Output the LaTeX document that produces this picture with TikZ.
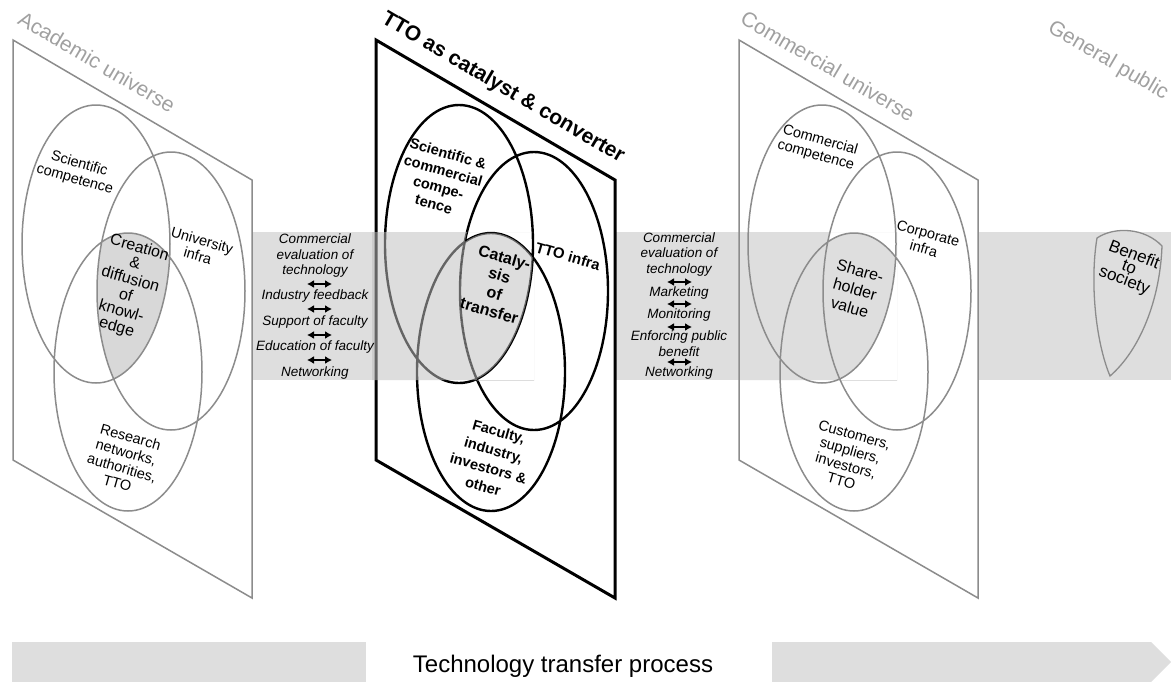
\documentclass[tikz,border=0pt]{standalone}
\usepackage{fontspec}
\setmainfont{Liberation Sans}
\usetikzlibrary{arrows.meta}

\definecolor{bandgray}{HTML}{DEDEDE}
\definecolor{linegray}{HTML}{8C8C8C}
\definecolor{titlegray}{HTML}{A0A0A0}
\definecolor{coregray}{HTML}{D8D8D8}

\begin{document}
\begin{tikzpicture}[x=1pt, y=-1pt,
    vennring/.style={x radius=74, y radius=139},
    unititle/.style={font=\fontsize{21}{24}\selectfont, rotate=-30.4, inner sep=0pt},
    ringtext/.style={font=\fontsize{14.5}{16}\selectfont, align=center, rotate=-16, inner sep=0pt},
    coretext/.style={ringtext, font=\fontsize{16}{16.5}\selectfont},
    activity/.style={font=\fontsize{13.5}{15}\selectfont\itshape, inner sep=0pt},
    twoway/.style={{Latex[length=7pt,width=8pt]}-{Latex[length=7pt,width=8pt]}, line width=2pt},
    greyline/.style={draw=linegray, line width=1.5pt},
    blackline/.style={draw=black, line width=2.4pt},
    veil/.style={fill=black!25, fill opacity=0.53}]
    \useasboundingbox (0,0) rectangle (1171,681);

    % Transfer band
    \fill[bandgray] (252,232) rectangle (1171,380);

    % Process bar
    \fill[bandgray] (12,642) rectangle (366,682);
    \fill[bandgray] (772,642) -- (1151,642) -- (1171,662) -- (1151,682) -- (772,682) -- cycle;
    \node[font=\fontsize{24}{26}\selectfont] (process) at (563,666) {Technology transfer process};

    % Academic universe
    \filldraw[greyline, fill=white] (13,40) -- (252,180) -- (252,598) -- (13,460) -- cycle;
    \coordinate (acadSci) at (96,244);
    \coordinate (acadInfra) at (171,291);
    \coordinate (acadNet) at (128,372);
    \begin{scope}
        \clip (acadSci) ellipse [vennring];
        \clip (acadInfra) ellipse [vennring];
        \fill[coregray] (acadNet) ellipse [vennring];
    \end{scope}
    \draw[greyline] (acadSci) ellipse [vennring] (acadInfra) ellipse [vennring] (acadNet) ellipse [vennring];

    % TTO panel
    \fill[white] (376,40) -- (615,180) -- (615,598) -- (376,460) -- cycle;
    \coordinate (ttoSci) at (459,244);
    \coordinate (ttoInfra) at (534,291);
    \coordinate (ttoNet) at (491,372);
    \draw[blackline] (ttoSci) ellipse [vennring] (ttoInfra) ellipse [vennring] (ttoNet) ellipse [vennring];
    \draw[line width=3pt] (376,40) -- (615,180) -- (615,598) -- (376,460) -- cycle;
    % band seen through the panel
    \begin{scope}
        \clip (372,232) rectangle (534,380);
        \fill[veil, even odd rule] (372,232) rectangle (534,380) (ttoInfra) ellipse [vennring];
    \end{scope}
    \begin{scope}
        \clip (ttoSci) ellipse [vennring];
        \clip (ttoInfra) ellipse [vennring];
        \fill[veil] (ttoNet) ellipse [vennring];
    \end{scope}

    % Commercial universe
    \fill[white] (739,40) -- (978,180) -- (978,598) -- (739,460) -- cycle;
    \coordinate (comComp) at (822,244);
    \coordinate (comInfra) at (897,291);
    \coordinate (comCust) at (854,372);
    \begin{scope}
        \clip (739,232) rectangle (897,380);
        \fill[bandgray, even odd rule] (739,232) rectangle (897,380) (comInfra) ellipse [vennring];
    \end{scope}
    \begin{scope}
        \clip (comComp) ellipse [vennring];
        \clip (comInfra) ellipse [vennring];
        \fill[bandgray] (comCust) ellipse [vennring];
    \end{scope}
    \draw[greyline] (comComp) ellipse [vennring] (comInfra) ellipse [vennring] (comCust) ellipse [vennring];
    \draw[greyline] (739,40) -- (978,180) -- (978,598) -- (739,460) -- cycle;

    % General public
    \filldraw[fill=bandgray, draw=linegray, line width=1.3pt] (1097,238) .. controls (1115,226) and (1145,228) .. (1162,246)
        .. controls (1160,300) and (1140,350) .. (1110,376) .. controls (1095,340) and (1090,280) .. (1097,238) -- cycle;

    % Titles
    \node[unititle, text=titlegray] (acadTitle) at (97,62) {Academic universe};
    \node[unititle, font=\fontsize{21}{24}\selectfont\bfseries] (ttoTitle) at (503,88) {TTO as catalyst \& converter};
    \node[unititle, text=titlegray] (comTitle) at (828,66) {Commercial universe};
    \node[unititle, text=titlegray] (publicTitle) at (1108,61) {General public};

    % Academic labels
    \node[ringtext] (sciText) at (77,172) {Scientific\\competence};
    \node[ringtext] (uniText) at (200,248) {University\\infra};
    \node[coretext] (creation) at (128,288) {Creation\\\&\\diffusion\\of\\knowl-\\edge};
    \node[ringtext] (resText) at (124,460) {Research\\networks,\\authorities,\\TTO};

    % TTO labels
    \node[ringtext, font=\fontsize{14.5}{17.5}\selectfont\bfseries] (sciComText) at (441,179) {Scientific \&\\commercial\\compe-\\tence};
    \node[ringtext, font=\fontsize{15}{17}\selectfont\bfseries] (ttoInfraText) at (568,256) {TTO infra};
    \node[coretext, font=\fontsize{16}{18.5}\selectfont\bfseries] (catalysis) at (497,284) {Cataly-\\sis\\of\\transfer};
    \node[ringtext, font=\fontsize{14.5}{19}\selectfont\bfseries] (facText) at (491,459) {Faculty,\\industry,\\investors \&\\other};

    % Commercial labels
    \node[ringtext] (comText) at (818,148) {Commercial\\competence};
    \node[ringtext] (corpText) at (926,241) {Corporate\\infra};
    \node[coretext, font=\fontsize{16}{19}\selectfont] (shareValue) at (855,289) {Share-\\holder\\value};
    \node[ringtext] (custText) at (848,458) {Customers,\\suppliers,\\investors,\\TTO};
    \node[ringtext, rotate=-5, font=\fontsize{17}{13.5}\selectfont] (benefit) at (1129,268) {Benefit\\to\\society};

    % Academic to TTO activities
    \node[activity] (evalA1) at (315,239) {Commercial};
    \node[activity] (evalA2) at (315,255) {evaluation of};
    \node[activity] (evalA3) at (315,271) {technology};
    \node[activity] (feedback) at (315,296) {Industry feedback};
    \node[activity] (support) at (315,322) {Support of faculty};
    \node[activity] (education) at (315,347) {Education of faculty};
    \node[activity] (netA) at (315,373) {Networking};
    \foreach \y [count=\i] in {284,309,335,360} {
        \coordinate (aw\i) at (307,\y);
        \coordinate (ae\i) at (332,\y);
        \draw[twoway] (aw\i) -- (ae\i);
    }

    % TTO to commercial activities
    \node[activity] (evalB1) at (679,238) {Commercial};
    \node[activity] (evalB2) at (679,253) {evaluation of};
    \node[activity] (evalB3) at (679,270) {technology};
    \node[activity] (marketing) at (679,293) {Marketing};
    \node[activity] (monitoring) at (679,315) {Monitoring};
    \node[activity] (enforce1) at (679,337) {Enforcing public};
    \node[activity] (enforce2) at (679,352) {benefit};
    \node[activity] (netB) at (679,373) {Networking};
    \foreach \y [count=\i] in {282,304,327,362} {
        \coordinate (bw\i) at (667,\y);
        \coordinate (be\i) at (692,\y);
        \draw[twoway] (bw\i) -- (be\i);
    }
\end{tikzpicture}
\end{document}
